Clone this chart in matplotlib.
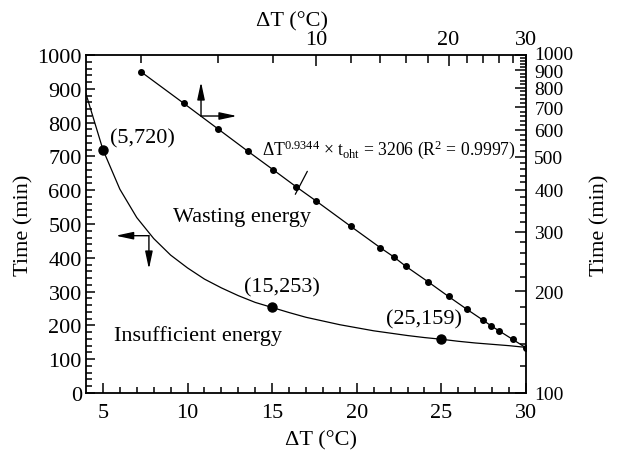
import numpy as np
import matplotlib
matplotlib.use('Agg')
import matplotlib.pyplot as plt
import matplotlib.transforms as mtransforms
from matplotlib.ticker import NullFormatter, FixedLocator

plt.rcParams['font.family'] = ['Liberation Serif', 'DejaVu Serif']
plt.rcParams['mathtext.fontset'] = 'custom'
plt.rcParams['mathtext.rm'] = 'Liberation Serif'
plt.rcParams['mathtext.it'] = 'Liberation Serif:italic'
plt.rcParams['mathtext.default'] = 'regular'

# ---- data ----
# fitted curve (linear axes, bottom/left)
dt_curve = [4, 5, 6, 7, 8, 9, 10, 11, 12, 13, 14, 15, 16, 17, 18, 19, 20,
            21, 22, 23, 24, 25, 26, 27, 28, 29, 30]
t_curve = [885, 720, 603, 519, 457, 408, 370, 337, 311, 288, 268, 253, 238,
           224, 213, 202, 193, 184, 177, 170, 164, 159, 153, 148, 144, 140, 135]

# highlighted points
dt_mark = [5, 15, 25]
t_mark = [720, 253, 159]
mark_labels = ['(5,720)', '(15,253)', '(25,159)']

# measured points (log-log axes, top/right)
dt_meas = [4, 5, 6, 7, 8, 9, 10, 12, 14, 15, 16, 18, 20, 22, 24, 25, 26, 28, 30]
t_meas = [892, 720, 603, 519, 457, 408, 370, 311, 269, 253, 237, 213, 193,
          177, 164, 158, 153, 144, 136]

top_major = [10, 20, 30]
top_minor = [4, 6, 8, 12, 14, 16, 18, 22, 24, 26, 28]
right_major = list(range(100, 1001, 100))
right_minor = [v for v in range(120, 1000, 20) if v % 100 != 0]

fs = 16

fig = plt.figure(figsize=(6.18, 4.56), dpi=100)
pos = [86 / 618, 1 - 394 / 456, 440 / 618, 338 / 456]
ax = fig.add_axes(pos)
ax2 = fig.add_axes(pos, frameon=False)

# ---- bottom / left (linear) ----
ax.plot(dt_curve, t_curve, color='k', lw=0.9)
ax.plot(dt_mark, t_mark, 'o', color='k', ms=6.5)
ax.set_xlim(4, 30)
ax.set_ylim(0, 1000)
ax.set_xticks([5, 10, 15, 20, 25, 30])
ax.set_xticks(range(5, 30), minor=True)
ax.set_yticks(range(0, 1001, 100))
ax.set_yticks(range(0, 1001, 20), minor=True)
ax.tick_params(which='both', direction='in', top=False, right=False,
               labelsize=fs, width=1.1)
ax.tick_params(axis='x', which='major', length=7, pad=7.5)
ax.tick_params(axis='x', which='minor', length=4.5)
ax.tick_params(axis='y', which='major', length=6.5, pad=3)
ax.tick_params(axis='y', which='minor', length=4)
for s in ax.spines.values():
    s.set_linewidth(1.3)
ax.set_xlabel('ΔT (°C)', fontsize=fs)
ax.set_ylabel('Time (min)', fontsize=fs)
ax.xaxis.set_label_coords(0.533, -0.11)
ax.yaxis.set_label_coords(-0.12, 0.5)

# ---- top / right (log) ----
ax2.plot(dt_meas, t_meas, '-o', color='k', lw=0.9, ms=4)
ax2.set_xscale('log')
ax2.set_yscale('log')
ax2.set_xlim(3, 30)
ax2.set_ylim(100, 1000)
ax2.xaxis.set_ticks_position('top')
ax2.xaxis.set_label_position('top')
ax2.yaxis.set_ticks_position('right')
ax2.yaxis.set_label_position('right')
ax2.xaxis.set_major_locator(FixedLocator(top_major))
ax2.xaxis.set_minor_locator(FixedLocator(top_minor))
ax2.set_xticklabels([str(v) for v in top_major])
ax2.xaxis.set_minor_formatter(NullFormatter())
ax2.yaxis.set_major_locator(FixedLocator(right_major))
ax2.yaxis.set_minor_locator(FixedLocator(right_minor))
ax2.set_yticklabels([str(v) for v in right_major])
ax2.yaxis.set_minor_formatter(NullFormatter())
ax2.tick_params(which='both', direction='in', width=1.1)
ax2.tick_params(axis='x', which='major', length=8, pad=4, labelsize=fs)
ax2.tick_params(axis='x', which='minor', length=6)
ax2.tick_params(axis='y', which='major', length=8, pad=6, labelsize=14)
ax2.tick_params(axis='y', which='minor', length=4.5)
ax2.set_xlabel('ΔT (°C)', fontsize=fs)
ax2.set_ylabel('Time (min)', fontsize=fs)
ax2.xaxis.set_label_coords(0.468, 1.086)
ax2.yaxis.set_label_coords(1.145, 0.5)

# nudge the top "1000" label up a little, as in the original
lab = ax2.get_yticklabels()[-1]
lab.set_transform(lab.get_transform() +
                  mtransforms.ScaledTranslation(0, 3 / 100, fig.dpi_scale_trans))

# ---- annotations ----
ax.text(5.4, 755, mark_labels[0], fontsize=fs, ha='left', va='center')
ax.text(15.55, 313, mark_labels[1], fontsize=fs, ha='center', va='center')
ax.text(23.97, 219, mark_labels[2], fontsize=fs, ha='center', va='center')
ax.text(13.22, 522, 'Wasting energy', fontsize=fs, ha='center', va='center')
ax.text(10.62, 170, 'Insufficient energy', fontsize=fs, ha='center', va='center')
ax.text(21.87, 722, r'ΔT$^{0.9344}$ × t$_{\rm oht}$ = 3206 (R$^2$ = 0.9997)',
        fontsize=12.7, ha='center', va='center')

arrow = dict(arrowstyle='-|>,head_length=0.7,head_width=0.15', color='k',
             lw=1.0, shrinkA=0, shrinkB=0, mutation_scale=15)
ax.annotate('', xy=(0.2614, 0.920), xytext=(0.2614, 0.8195),
            xycoords='axes fraction', arrowprops=arrow)
ax.annotate('', xy=(0.343, 0.8195), xytext=(0.2614, 0.8195),
            xycoords='axes fraction', arrowprops=arrow)
ax.annotate('', xy=(0.0675, 0.4654), xytext=(0.143, 0.4654),
            xycoords='axes fraction', arrowprops=arrow)
ax.annotate('', xy=(0.143, 0.3669), xytext=(0.143, 0.4654),
            xycoords='axes fraction', arrowprops=arrow)
# leader line to the fit equation
ax.annotate('', xy=(0.5030, 0.6558), xytext=(0.4757, 0.5879),
            xycoords='axes fraction',
            arrowprops=dict(arrowstyle='-', color='k', lw=0.9,
                            shrinkA=0, shrinkB=0))

fig.savefig('out.png', dpi=100)
